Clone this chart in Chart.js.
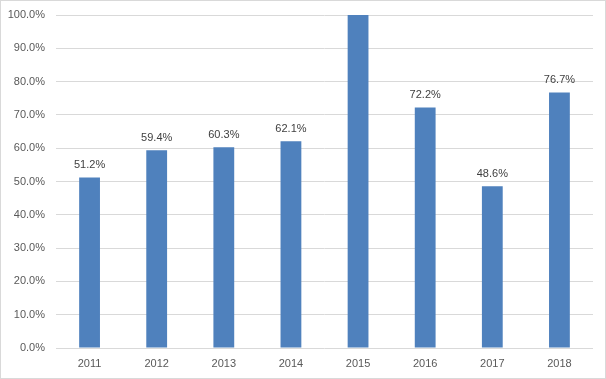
<!DOCTYPE html>
<html>
<head>
<meta charset="utf-8">
<script src="https://cdn.jsdelivr.net/npm/chart.js@4/dist/chart.umd.min.js"></script>
<style>
html,body{margin:0;padding:0;background:#fff;}
#wrap{width:604px;height:377px;border:1px solid #d9d9d9;position:relative;}
canvas{display:block;}
</style>
</head>
<body>
<div id="wrap"><canvas id="c" width="604" height="377"></canvas></div>
<script>
const categories = ["2011","2012","2013","2014","2015","2016","2017","2018"];
const values = [51.2, 59.4, 60.3, 62.1, 100.0, 72.2, 48.6, 76.7];
const yTicks = [0,10,20,30,40,50,60,70,80,90,100];

const FONT = '"Liberation Sans", Arial, sans-serif';

const labelPlugin = {
  id: 'barLabels',
  afterDatasetsDraw(chart) {
    const ctx = chart.ctx;
    const meta = chart.getDatasetMeta(0);
    const yScale = chart.scales.y;
    ctx.save();
    ctx.font = '11px ' + FONT;
    ctx.fillStyle = '#404040';
    ctx.textAlign = 'center';
    ctx.textBaseline = 'bottom';
    meta.data.forEach((bar, i) => {
      const v = values[i];
      if (v >= yScale.max) return;
      ctx.fillText(v.toFixed(1) + '%', bar.x, yScale.getPixelForValue(v) - 7);
    });
    ctx.restore();
  }
};

new Chart(document.getElementById('c'), {
  type: 'bar',
  data: {
    labels: categories,
    datasets: [{
      data: values,
      backgroundColor: '#4f81bd',
      categoryPercentage: 1.0,
      barPercentage: 0.31
    }]
  },
  options: {
    responsive: false,
    animation: false,
    layout: { padding: { left: 0, right: 12, top: 14, bottom: 0 } },
    plugins: { legend: { display: false }, tooltip: { enabled: false } },
    scales: {
      x: {
        grid: { display: false, drawTicks: false },
        border: { display: false },
        ticks: { color: '#595959', font: { family: FONT, size: 11 }, padding: 9 },
        afterFit(s) { s.height = 30; s.paddingLeft = 0; s.paddingRight = 0; }
      },
      y: {
        min: 0, max: 100,
        afterBuildTicks(s) { s.ticks = yTicks.map(v => ({ value: v })); },
        grid: { color: '#d9d9d9', drawTicks: false },
        border: { display: false },
        ticks: {
          color: '#595959',
          font: { family: FONT, size: 11 },
          padding: 11,
          callback: v => v.toFixed(1) + '%'
        },
        afterFit(s) { s.width = 55; s.paddingTop = 0; s.paddingBottom = 0; }
      }
    }
  },
  plugins: [labelPlugin]
});
</script>
</body>
</html>
